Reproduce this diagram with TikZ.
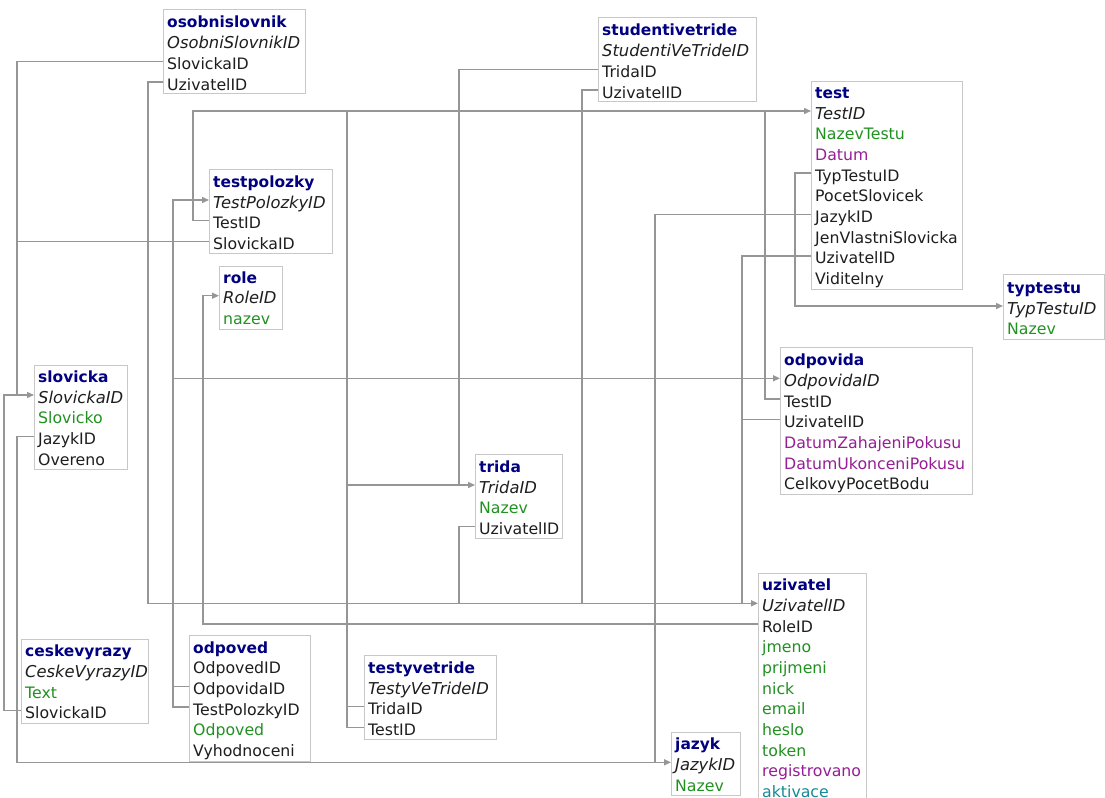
\documentclass[tikz,border=0pt]{standalone}
\usepackage{fontspec}
\setmainfont{DejaVu Sans}
\usetikzlibrary{arrows.meta,calc}
\definecolor{ttl}{RGB}{0,0,128}
\definecolor{grn}{RGB}{34,145,34}
\definecolor{pur}{RGB}{150,30,150}
\definecolor{tea}{RGB}{20,140,150}
\definecolor{txt}{RGB}{30,30,30}
\definecolor{lng}{RGB}{150,150,150}
\definecolor{bxg}{RGB}{200,200,200}
\tikzset{
  tbl/.style={draw=bxg, line width=1bp, fill=white, inner sep=0pt, rectangle},
  fieldrow/.style={anchor=west, inner xsep=4bp, inner ysep=0pt, text height=16bp, text depth=0pt,
    font=\fontsize{15.8}{18}\selectfont, text=txt},
  ttlrow/.style={fieldrow, font=\fontsize{15.5}{18}\selectfont\bfseries, text=ttl},
  pkrow/.style={fieldrow, font=\fontsize{16.4}{18}\selectfont\itshape},
  grnrow/.style={fieldrow, text=grn},
  purrow/.style={fieldrow, text=pur},
  tearow/.style={fieldrow, text=tea},
  fk/.style={draw=lng, line width=1.4bp},
  fkarrow/.style={fk, -{Triangle[length=7bp,width=6bp]}},
}
\newcommand\dbtable[7]{%
  \node[tbl, minimum width={(#3-#2)*1bp}, minimum height={(#5-#4)*1bp}, anchor=north west] (#1) at (#2,#4) {};
  \foreach \st/\tx [count=\i from 0] in {#7} {
    \node[\st] (#1-\tx) at (#2, #6+\i*20.7) {\tx};
  }%
}
\newcommand\tipat[1]{\draw[fkarrow] ($(#1.west)+(-9,0)$) -- (#1.west);}
\begin{document}
\begin{tikzpicture}[x=1bp, y=-1bp]
\useasboundingbox (0,0) rectangle (1105,798);
\clip (0,0) rectangle (1105,798);
\fill[white] (0,0) rectangle (1105,798);

\dbtable{osl}{163}{305}{9}{93}{20}{ttlrow/osobnislovnik, pkrow/OsobniSlovnikID, fieldrow/SlovickaID, fieldrow/UzivatelID}
\dbtable{svt}{598}{756}{17}{101}{28}{ttlrow/studentivetride, pkrow/StudentiVeTrideID, fieldrow/TridaID, fieldrow/UzivatelID}
\dbtable{tst}{811}{962}{81}{289}{90.3}{ttlrow/test, pkrow/TestID, grnrow/NazevTestu, purrow/Datum, fieldrow/TypTestuID, fieldrow/PocetSlovicek, fieldrow/JazykID, fieldrow/JenVlastniSlovicka, fieldrow/UzivatelID, fieldrow/Viditelny}
\dbtable{tpl}{209}{332}{169}{253}{179.3}{ttlrow/testpolozky, pkrow/TestPolozkyID, fieldrow/TestID, fieldrow/SlovickaID}
\dbtable{rol}{219}{282}{266}{329}{275}{ttlrow/role, pkrow/RoleID, grnrow/nazev}
\dbtable{typ}{1003}{1104}{274}{339}{285.3}{ttlrow/typtestu, pkrow/TypTestuID, grnrow/Nazev}
\dbtable{oda}{780}{972}{347}{494}{357.6}{ttlrow/odpovida, pkrow/OdpovidaID, fieldrow/TestID, fieldrow/UzivatelID, purrow/DatumZahajeniPokusu, purrow/DatumUkonceniPokusu, fieldrow/CelkovyPocetBodu}
\dbtable{slo}{34}{127}{365}{469}{374.3}{ttlrow/slovicka, pkrow/SlovickaID, grnrow/Slovicko, fieldrow/JazykID, fieldrow/Overeno}
\dbtable{tri}{475}{562}{454}{538}{464.3}{ttlrow/trida, pkrow/TridaID, grnrow/Nazev, fieldrow/UzivatelID}
\dbtable{uzi}{758}{866}{573}{806}{582.6}{ttlrow/uzivatel, pkrow/UzivatelID, fieldrow/RoleID, grnrow/jmeno, grnrow/prijmeni, grnrow/nick, grnrow/email, grnrow/heslo, grnrow/token, purrow/registrovano, tearow/aktivace}
\dbtable{jaz}{671}{740}{732}{795}{741.6}{ttlrow/jazyk, pkrow/JazykID, grnrow/Nazev}
\dbtable{cvy}{21}{148}{639}{723}{648.6}{ttlrow/ceskevyrazy, pkrow/CeskeVyrazyID, grnrow/Text, fieldrow/SlovickaID}
\dbtable{odp}{189}{310}{635}{761}{645}{ttlrow/odpoved, fieldrow/OdpovedID, fieldrow/OdpovidaID, fieldrow/TestPolozkyID, grnrow/Odpoved, fieldrow/Vyhodnoceni}
\dbtable{tvt}{364}{496}{655}{739}{665.3}{ttlrow/testyvetride, pkrow/TestyVeTrideID, fieldrow/TridaID, fieldrow/TestID}

% all foreign-key connectors in one path, so shared trunks are stroked once
\draw[fk]
  (osl-SlovickaID.west) -- (17,0 |- osl-SlovickaID.west) |- ($(slo-SlovickaID.west)+(-5,0)$)
  (tpl-SlovickaID.west) -- (17,0 |- tpl-SlovickaID.west) |- ($(slo-SlovickaID.west)+(-5,0)$)
  (cvy-SlovickaID.west) -- (4,0 |- cvy-SlovickaID.west) |- ($(slo-SlovickaID.west)+(-5,0)$)
  (slo-JazykID.west) -- (17,0 |- slo-JazykID.west) |- ($(jaz-JazykID.west)+(-5,0)$)
  (tst-JazykID.west) -- (655,0 |- tst-JazykID.west) |- ($(jaz-JazykID.west)+(-5,0)$)
  (osl-UzivatelID.west) -- (148,0 |- osl-UzivatelID.west) |- ($(uzi-UzivatelID.west)+(-5,0)$)
  (tst-UzivatelID.west) -- (742,0 |- tst-UzivatelID.west) |- ($(uzi-UzivatelID.west)+(-5,0)$)
  (oda-UzivatelID.west) -- (742,0 |- oda-UzivatelID.west) |- ($(uzi-UzivatelID.west)+(-5,0)$)
  (svt-UzivatelID.west) -- (582,0 |- svt-UzivatelID.west) |- ($(uzi-UzivatelID.west)+(-5,0)$)
  (tri-UzivatelID.west) -- (459,0 |- tri-UzivatelID.west) |- ($(uzi-UzivatelID.west)+(-5,0)$)
  (uzi-RoleID.west) -- (203,0 |- uzi-RoleID.west) |- ($(rol-RoleID.west)+(-5,0)$)
  (svt-TridaID.west) -- (459,0 |- svt-TridaID.west) |- ($(tri-TridaID.west)+(-5,0)$)
  (tvt-TridaID.west) -- (347,0 |- tvt-TridaID.west) |- ($(tri-TridaID.west)+(-5,0)$)
  (tvt-TestID.west) -- (347,0 |- tvt-TestID.west) |- ($(tst-TestID.west)+(-5,0)$)
  (tpl-TestID.west) -- (193,0 |- tpl-TestID.west) |- ($(tst-TestID.west)+(-5,0)$)
  (oda-TestID.west) -- (765,0 |- oda-TestID.west) |- ($(tst-TestID.west)+(-5,0)$)
  (tst-TypTestuID.west) -- (795,0 |- tst-TypTestuID.west) |- ($(typ-TypTestuID.west)+(-5,0)$)
  (odp-OdpovidaID.west) -- (173,0 |- odp-OdpovidaID.west) |- ($(oda-OdpovidaID.west)+(-5,0)$)
  (odp-TestPolozkyID.west) -- (173,0 |- odp-TestPolozkyID.west) |- ($(tpl-TestPolozkyID.west)+(-5,0)$);

% arrow heads at the referenced primary keys
\tipat{slo-SlovickaID}
\tipat{jaz-JazykID}
\tipat{uzi-UzivatelID}
\tipat{rol-RoleID}
\tipat{tri-TridaID}
\tipat{tst-TestID}
\tipat{typ-TypTestuID}
\tipat{oda-OdpovidaID}
\tipat{tpl-TestPolozkyID}
\end{tikzpicture}
\end{document}
